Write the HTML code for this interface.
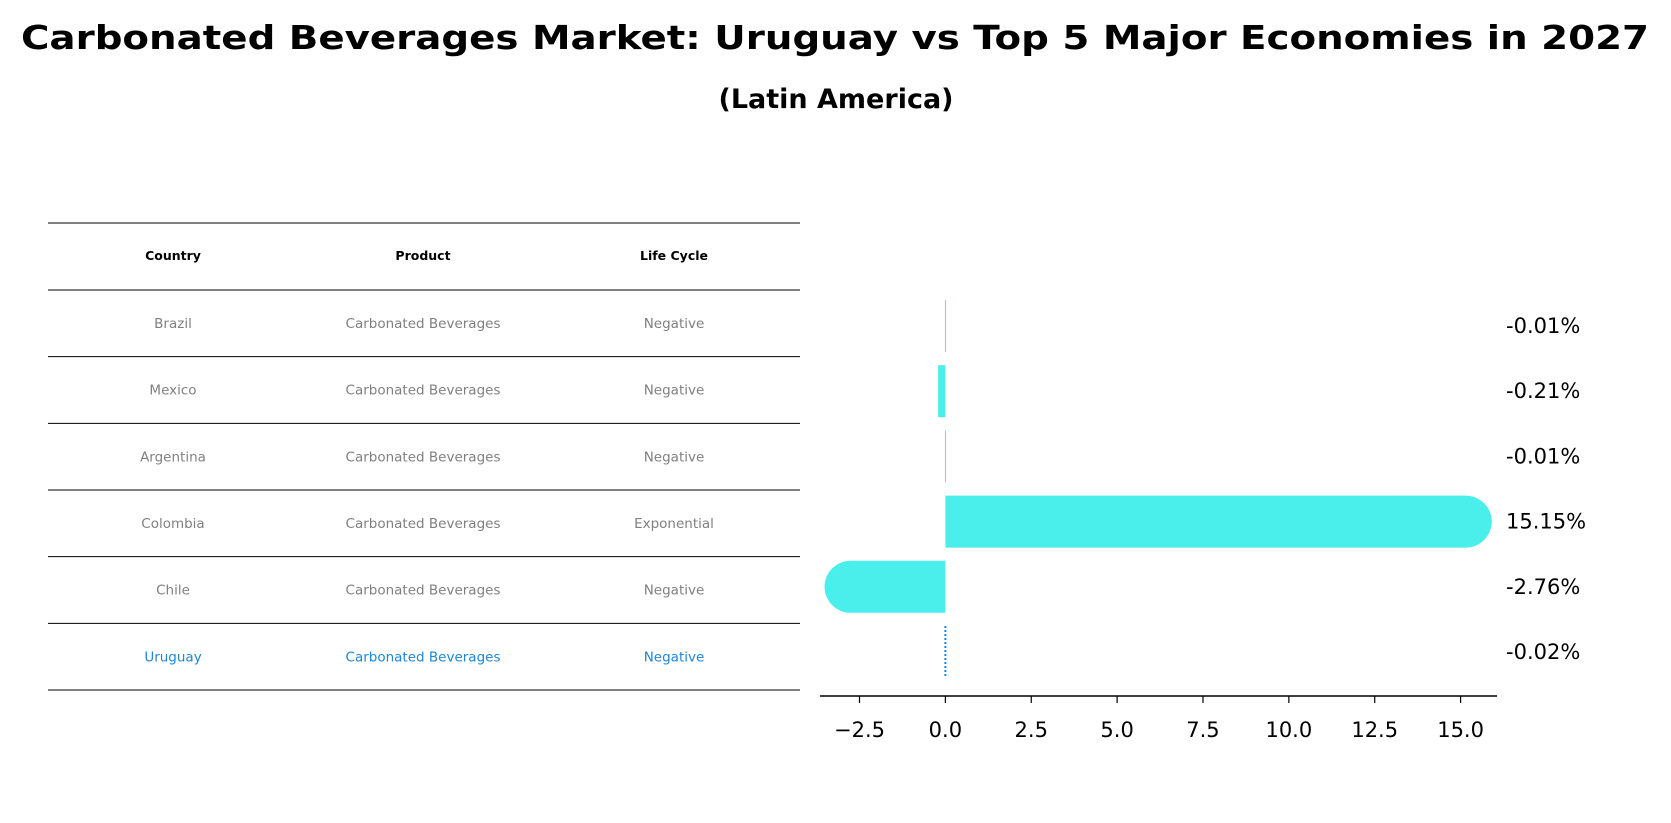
<!DOCTYPE html>
<html><head><meta charset="utf-8"><style>
body{margin:0;background:#fff;}
svg{display:block;font-family:"DejaVu Sans","Liberation Sans",sans-serif;}
</style></head><body>
<svg id="chart" width="1671" height="823" viewBox="0 0 1671 823">
<text x="835" y="49" text-anchor="middle" font-size="33" font-weight="bold" textLength="1628" lengthAdjust="spacingAndGlyphs">Carbonated Beverages Market: Uruguay vs Top 5 Major Economies in 2027</text>
<text x="836" y="108" text-anchor="middle" font-size="27" font-weight="bold">(Latin America)</text>
<g id="table"></g>
<g id="bars"></g>
</svg>
<script>
const countries=["Brazil","Mexico","Argentina","Colombia","Chile","Uruguay"];
const products=["Carbonated Beverages","Carbonated Beverages","Carbonated Beverages","Carbonated Beverages","Carbonated Beverages","Carbonated Beverages"];
const lifeCycles=["Negative","Negative","Negative","Exponential","Negative","Negative"];
const values=[-0.01,-0.21,-0.01,15.15,-2.76,-0.02];
const valueLabels=["-0.01%","-0.21%","-0.01%","15.15%","-2.76%","-0.02%"];
const xTicks=[-2.5,0,2.5,5,7.5,10,12.5,15];
const xTickLabels=["\u22122.5","0.0","2.5","5.0","7.5","10.0","12.5","15.0"];

const NS="http://www.w3.org/2000/svg";
function mk(tag,attrs,parent){const e=document.createElementNS(NS,tag);for(const k in attrs)e.setAttribute(k,attrs[k]);parent.appendChild(e);return e;}
const X0=-3.65,X1=16.06,PX0=820,PX1=1497;
function xs(v){return PX0+(v-X0)/(X1-X0)*(PX1-PX0);}
function ys(i){return 326+i*65.2;}

const tb=document.getElementById('table');
const lineYs=[223,290];
for(let i=0;i<countries.length;i++)lineYs.push(290+(i+1)*66.67);
lineYs.forEach((y,i)=>{
  const l=mk('line',{x1:48,x2:800,y1:y,y2:y,stroke:'#000','stroke-width':1},tb);
  
  
});
const colX=[173,423,674];
["Country","Product","Life Cycle"].forEach((h,j)=>{
  const t=mk('text',{x:colX[j],y:260,'text-anchor':'middle','font-size':12.5,'font-weight':'bold'},tb);
  t.textContent=h;
  
  
});
countries.forEach((c,i)=>{
  const y=290+i*66.67+38;
  const col=i===countries.length-1?'#1f86d6':'#808080';
  [c,products[i],lifeCycles[i]].forEach((v,j)=>{
    const t=mk('text',{x:colX[j],y:y,'text-anchor':'middle','font-size':13.5,fill:col},tb);
    t.textContent=v;
    
    
  });
});

const g=document.getElementById('bars');
const H=52,R=26;
values.forEach((v,i)=>{
  const cy=ys(i);
  const x0=xs(0),x1=xs(v);
  const last=i===values.length-1;
  let el;
  const w=Math.abs(x1-x0);
  if(last){
    el=mk('line',{x1:x0,x2:x0,y1:cy-H/2,y2:cy+H/2,stroke:'#1f86d6','stroke-width':2,'stroke-dasharray':'2,2'},g);
  } else if(w>R){
    const dir=v>0?1:-1;
    const d=`M${x0},${cy-H/2} L${x1},${cy-H/2} A${R},${R} 0 0 ${dir>0?1:0} ${x1},${cy+H/2} L${x0},${cy+H/2} Z`;
    el=mk('path',{d:d,fill:'#4aeeea'},g);
  } else {
    el=mk('rect',{x:Math.min(x0,x1),y:cy-H/2,width:Math.max(w,1),height:H,fill:'#4aeeea'},g);
  }
  
  
  const t=mk('text',{x:1506,y:cy+7,'font-size':21},g);
  t.textContent=valueLabels[i];
  
  
});
const ax=mk('line',{x1:PX0,x2:PX1,y1:696,y2:696,stroke:'#000','stroke-width':1.5},g);


xTicks.forEach((v,i)=>{
  const tk=mk('line',{x1:xs(v),x2:xs(v),y1:696,y2:703,stroke:'#000','stroke-width':1.2},g);
  
  
  const t=mk('text',{x:xs(v),y:737,'text-anchor':'middle','font-size':21},g);
  t.textContent=xTickLabels[i];
  
  
});
</script>
</body></html>
